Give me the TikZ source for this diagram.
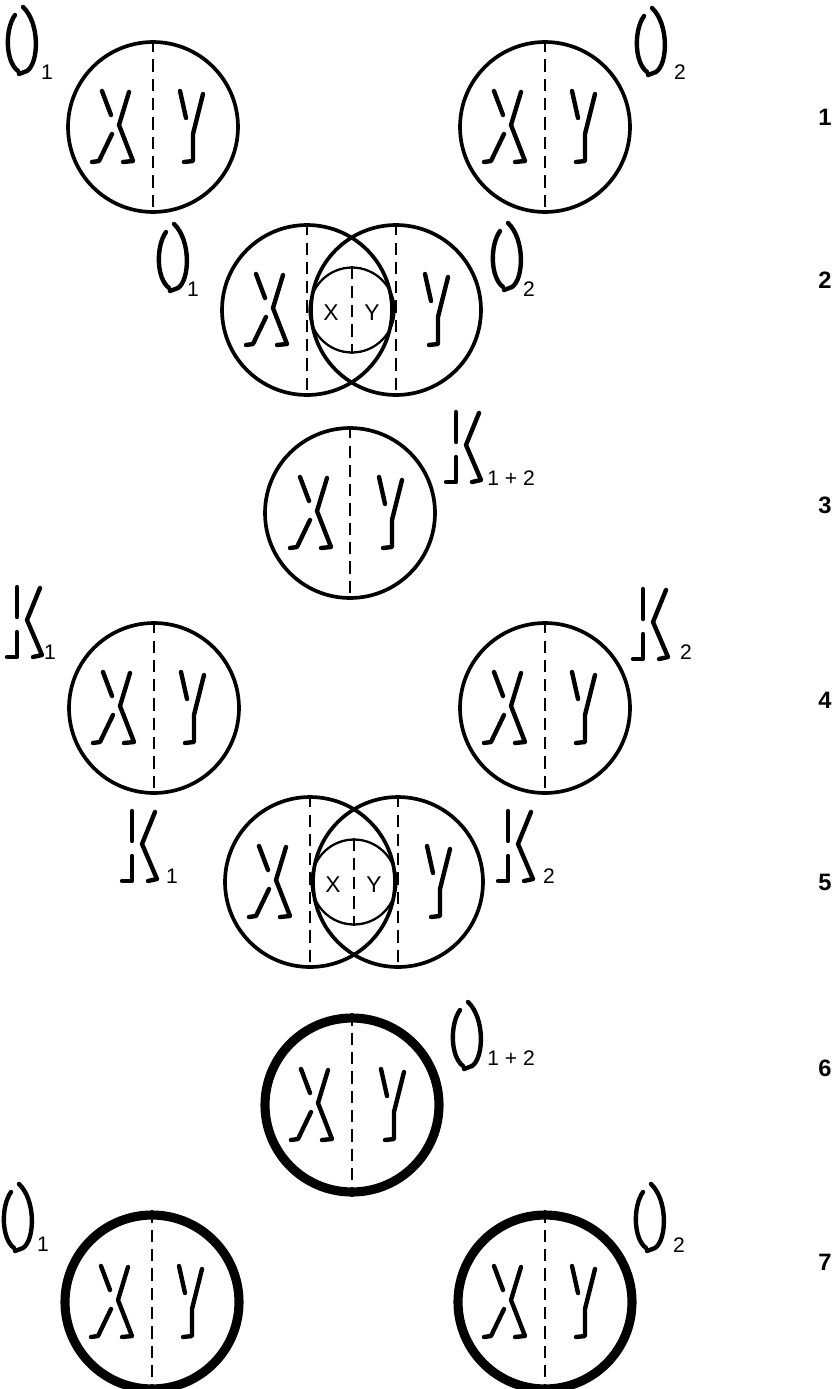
\documentclass[tikz,border=0pt]{standalone}
\usepackage{fontspec}
\newfontfamily\labelfont{Liberation Sans}

% Chromosome glyphs, drawn in pixel units of the picture
\tikzset{
  cell/.style={circle, draw, line width=2.1pt, minimum size=3.4cm, inner sep=0pt},
  heavycell/.style={cell, line width=5.2pt, minimum size=3.48cm},
  core/.style={circle, draw, line width=1.3pt, minimum size=1.7cm, inner sep=0pt},
  axisline/.style={line width=1.2pt, dash pattern=on 7pt off 4pt},
  glyph/.style={line width=2.5pt, line cap=round, line join=round},
  sub/.style={font=\labelfont\fontsize{12}{14}\selectfont, inner sep=0pt},
  coretext/.style={font=\labelfont\fontsize{13}{15}\selectfont, inner sep=0pt},
  rownum/.style={font=\labelfont\bfseries\fontsize{13.5}{16}\selectfont, inner sep=0pt},
  chrX/.pic={
    \draw[glyph] (-11,-36) -- (-2,-12);
    \draw[glyph] (-1,7) -- (-14,34) -- (-21,35);
    \draw[glyph] (16,-35) -- (6,-2) -- (20,34) -- (10,35);
  },
  chrY/.pic={
    \draw[glyph] (-11,-36) -- (-5,-9);
    \draw[glyph] (12,-33) -- (2,7) -- (2,34) -- (-7,35);
  },
  chrO/.pic={
    \draw[glyph] (-7,-26) .. controls (-17,-12) and (-17,20) .. (-4,30);
    \draw[glyph] (1,-34) .. controls (18,-18) and (17,22) .. (5,30) -- (-3,33);
  },
  chrK/.pic={
    \draw[glyph] (-8,-35) -- (-8,-5);
    \draw[glyph] (-8,10) -- (-8,35) -- (-18,35);
    \draw[glyph] (15,-34) -- (2,-2) -- (17,33) -- (8,35);
  },
}

\begin{document}
\begin{tikzpicture}[x=0.02cm, y=-0.02cm]
  \useasboundingbox (0,0) rectangle (837,1389);

  % Zeile 1: zwei getrennte Zellen
  \node[cell] (r1a) at (153,127) {};
  \node[cell] (r1b) at (545,127) {};
  \foreach \c in {r1a,r1b} {
    \draw[axisline] (\c.north) -- (\c.south);
    \path (\c.center) ++(-40,0) pic {chrX};
    \path (\c.center) ++(38,0) pic {chrY};
  }
  \pic at (22,41) {chrO};
  \node[sub] (s1a) at (47,72) {1};
  \pic at (651,42) {chrO};
  \node[sub] (s1b) at (680,72) {2};

  % Zeile 2: Verschmelzung
  \node[cell] (r2a) at (307,310) {};
  \node[cell] (r2b) at (396,310) {};
  \node[core] (r2c) at (352,310) {};
  \draw[axisline] (r2a.north) -- (r2a.south);
  \draw[axisline] (r2b.north) -- (r2b.south);
  \draw[axisline] (r2c.north) -- (r2c.south);
  \path (r2a.center) ++(-40,0) pic {chrX};
  \path (r2b.center) ++(40,0) pic {chrY};
  \node[coretext] (x2) at (331,313) {X};
  \node[coretext] (y2) at (372,313) {Y};
  \pic at (173,258) {chrO};
  \node[sub] (s2a) at (193,289) {1};
  \pic at (507,257) {chrO};
  \node[sub] (s2b) at (529,289) {2};

  % Zeile 3: Kern der Verschmelzung
  \node[cell] (r3) at (350,513) {};
  \draw[axisline] (r3.north) -- (r3.south);
  \path (r3.center) ++(-39,0) pic {chrX};
  \path (r3.center) ++(40,0) pic {chrY};
  \pic at (464,447) {chrK};
  \node[sub, anchor=west] (s3) at (487,478) {1 + 2};

  % Zeile 4
  \node[cell] (r4a) at (154,708) {};
  \node[cell] (r4b) at (545,708) {};
  \foreach \c in {r4a,r4b} {
    \draw[axisline] (\c.north) -- (\c.south);
    \path (\c.center) ++(-40,0) pic {chrX};
    \path (\c.center) ++(38,0) pic {chrY};
  }
  \pic at (25,622) {chrK};
  \node[sub] (s4a) at (50,652) {1};
  \pic at (651,624) {chrK};
  \node[sub] (s4b) at (686,652) {2};

  % Zeile 5: Verschmelzung
  \node[cell] (r5a) at (310,882) {};
  \node[cell] (r5b) at (398,882) {};
  \node[core] (r5c) at (354,882) {};
  \draw[axisline] (r5a.north) -- (r5a.south);
  \draw[axisline] (r5b.north) -- (r5b.south);
  \draw[axisline] (r5c.north) -- (r5c.south);
  \path (r5a.center) ++(-40,0) pic {chrX};
  \path (r5b.center) ++(40,0) pic {chrY};
  \node[coretext] (x5) at (333,885) {X};
  \node[coretext] (y5) at (374,885) {Y};
  \pic at (140,846) {chrK};
  \node[sub] (s5a) at (172,876) {1};
  \pic at (516,846) {chrK};
  \node[sub] (s5b) at (549,876) {2};

  % Zeile 6
  \node[heavycell] (r6) at (352,1105) {};
  \draw[axisline] (r6.north) -- (r6.south);
  \path (r6.center) ++(-40,0) pic {chrX};
  \path (r6.center) ++(40,0) pic {chrY};
  \pic at (467,1036) {chrO};
  \node[sub, anchor=west] (s6) at (487,1058) {1 + 2};

  % Zeile 7
  \node[heavycell] (r7a) at (152,1302) {};
  \node[heavycell] (r7b) at (545,1302) {};
  \foreach \c in {r7a,r7b} {
    \draw[axisline] (\c.north) -- (\c.south);
    \path (\c.center) ++(-40,0) pic {chrX};
    \path (\c.center) ++(38,0) pic {chrY};
  }
  \pic at (18,1218) {chrO};
  \node[sub] (s7a) at (43,1244) {1};
  \pic at (650,1218) {chrO};
  \node[sub] (s7b) at (679,1245) {2};

  % Zeilennummern
  \foreach \n/\y in {1/117, 2/280, 3/505, 4/700, 5/882, 6/1068, 7/1262}
    \node[rownum] (n\n) at (825,\y) {\n};
\end{tikzpicture}
\end{document}
